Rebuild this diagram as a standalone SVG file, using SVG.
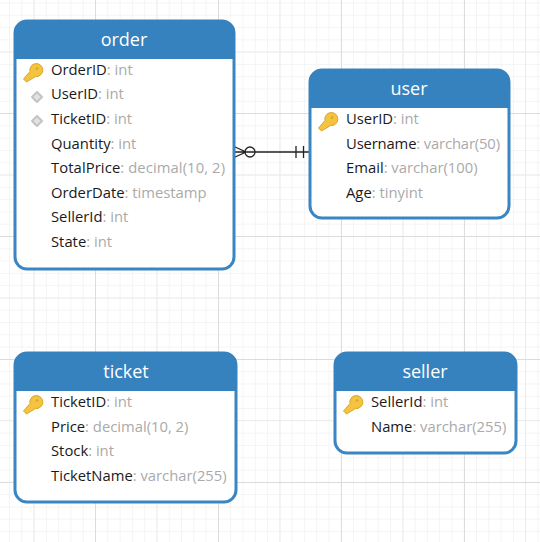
<svg xmlns="http://www.w3.org/2000/svg" width="540" height="542" viewBox="0 0 540 542">
<style>
.body{fill:#fff;stroke:#3b86c2;stroke-width:3}
.head{fill:#3682bf}
.title{font:18px "Open Sans","Noto Sans",sans-serif;fill:#fff;text-anchor:middle}
.row{font:14.8px "Open Sans","Noto Sans",sans-serif;fill:#1a1a1a}
.row tspan{fill:#aaa}
.key{fill:#f4c33f;stroke:#dda528;stroke-width:1}
.fk{fill:#e2e2e2;stroke:#c4c4c4;stroke-width:2;stroke-linejoin:round}
.gmin{stroke:#f4f4f4;stroke-width:1;fill:none}
.gmid{stroke:#ececec;stroke-width:1;fill:none}
.gmaj{stroke:#dcdcdc;stroke-width:1;fill:none}
.conn{stroke:#222;stroke-width:1.3;fill:none}
</style>
<defs>
<pattern id="minor" width="12.29" height="12.29" patternUnits="userSpaceOnUse" x="9" y="2.500">
<path class="gmin" d="M0.500 0V12.290M0 0.500H12.290"/>
</pattern>
<g id="k">
<path class="key" d="M-9.500 9L-3 1.500A6.500 6.500 0 1 1 2.500 6.500L-6.500 12Z"/>
<circle cx="4" cy="-1.500" r="1.300" fill="#dda528"/>
</g>
<path id="d" class="fk" d="M0 -5L5 0L0 5L-5 0Z"/>
</defs>
<g id="grid">
<rect width="540" height="542" fill="#fff"/>
<rect width="540" height="542" fill="url(#minor)"/>
<path class="gmid" d="M34 0V542M157 0V542M280 0V542M403 0V542M525.500 0V542M0 52H540M0 175H540M0 298H540M0 420.500H540"/>
<path class="gmaj" d="M95.500 0V542M218.500 0V542M341.500 0V542M464.500 0V542M0 113.500H540M0 236.500H540M0 359.500H540M0 482.500H540"/>
</g>
<g id="connectors">
<path class="conn" d="M234 152H309M296 146V158M303.500 146V158M234 146.500L246 152L234 157.500"/>
<circle class="conn" cx="250" cy="152" r="5"/>
</g>
<g id="order">
<rect class="body" x="15" y="21" width="219" height="248" rx="12"/>
<path class="head" d="M14 59V33A13 13 0 0 1 27 20H222A13 13 0 0 1 235 33V59Z"/>
<text class="title" x="124" y="46">order</text>
<use href="#k" x="33" y="70"/>
<text class="row" x="51" y="75">OrderID<tspan>: int</tspan></text>
<use href="#d" x="37" y="97"/>
<text class="row" x="51" y="99">UserID<tspan>: int</tspan></text>
<use href="#d" x="37" y="121"/>
<text class="row" x="51" y="124">TicketID<tspan>: int</tspan></text>
<text class="row" x="51" y="149">Quantity<tspan>: int</tspan></text>
<text class="row" x="51" y="173" textLength="174">TotalPrice<tspan>: decimal(10, 2)</tspan></text>
<text class="row" x="51" y="198">OrderDate<tspan>: timestamp</tspan></text>
<text class="row" x="51" y="222">SellerId<tspan>: int</tspan></text>
<text class="row" x="51" y="247">State<tspan>: int</tspan></text>
</g>
<g id="user">
<rect class="body" x="310" y="70" width="199" height="148" rx="12"/>
<path class="head" d="M309 108V82A13 13 0 0 1 322 69H497A13 13 0 0 1 510 82V108Z"/>
<text class="title" x="409" y="95">user</text>
<use href="#k" x="328" y="119"/>
<text class="row" x="346" y="124">UserID<tspan>: int</tspan></text>
<text class="row" x="346" y="149" textLength="154">Username<tspan>: varchar(50)</tspan></text>
<text class="row" x="346" y="173">Email<tspan>: varchar(100)</tspan></text>
<text class="row" x="346" y="198">Age<tspan>: tinyint</tspan></text>
</g>
<g id="ticket">
<rect class="body" x="15" y="353" width="221" height="149" rx="12"/>
<path class="head" d="M14 391V365A13 13 0 0 1 27 352H224A13 13 0 0 1 237 365V391Z"/>
<text class="title" x="126" y="378">ticket</text>
<use href="#k" x="33" y="402"/>
<text class="row" x="51" y="407">TicketID<tspan>: int</tspan></text>
<text class="row" x="51" y="432">Price<tspan>: decimal(10, 2)</tspan></text>
<text class="row" x="51" y="456">Stock<tspan>: int</tspan></text>
<text class="row" x="51" y="481">TicketName<tspan>: varchar(255)</tspan></text>
</g>
<g id="seller">
<rect class="body" x="335" y="353" width="181" height="100" rx="12"/>
<path class="head" d="M334 391V365A13 13 0 0 1 347 352H504A13 13 0 0 1 517 365V391Z"/>
<text class="title" x="425" y="378">seller</text>
<use href="#k" x="353" y="402"/>
<text class="row" x="371" y="407">SellerId<tspan>: int</tspan></text>
<text class="row" x="371" y="432">Name<tspan>: varchar(255)</tspan></text>
</g>
</svg>
